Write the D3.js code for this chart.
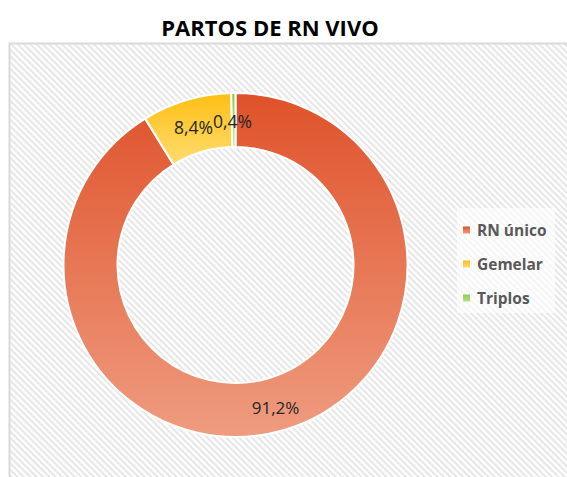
<!DOCTYPE html>
<html>
<head>
<meta charset="utf-8">
<script src="https://cdn.jsdelivr.net/npm/d3@7"></script>
<style>
  body { margin: 0; background: #fff; }
  svg { display: block; font-family: 'Open Sans', 'Noto Sans', sans-serif; }
</style>
</head>
<body>
<svg id="chart"></svg>
<script>
const categories = ['RN único', 'Gemelar', 'Triplos'];
const values = [91.2, 8.4, 0.4];
const labels = ['91,2%', '8,4%', '0,4%'];
const colorsTop = ['#df522a', '#ffbf14', '#8fcf4c'];
const colorsBottom = ['#ef9c80', '#ffdc70', '#b5e08a'];

const width = 567,
  height = 477,
  cx = 235.5,
  cy = 265,
  outerR = 172,
  innerR = 118;

const svg = d3.select('#chart')
  .attr('width', width)
  .attr('height', height);

const defs = svg.append('defs');

// diagonal stripe background
const pat = defs.append('pattern')
  .attr('id', 'stripes')
  .attr('patternUnits', 'userSpaceOnUse')
  .attr('width', 4.5)
  .attr('height', 4.5)
  .attr('patternTransform', 'rotate(45)');
pat.append('rect').attr('width', 4.5).attr('height', 4.5).attr('fill', '#fcfcfc');
pat.append('rect').attr('width', 4.5).attr('height', 1.8).attr('fill', '#e6e6e6');

categories.forEach((c, i) => {
  const g = defs.append('linearGradient')
    .attr('id', 'grad' + i)
    .attr('x1', 0).attr('y1', 0).attr('x2', 0).attr('y2', 1);
  g.append('stop').attr('offset', '0%').attr('stop-color', colorsTop[i]);
  g.append('stop').attr('offset', '100%').attr('stop-color', colorsBottom[i]);
});

svg.append('rect')
  .attr('x', 9.5)
  .attr('y', 43.5)
  .attr('width', 560)
  .attr('height', 440)
  .attr('fill', 'url(#stripes)')
  .attr('stroke', '#d9d9d9')
  .attr('stroke-width', 2);

svg.append('text')
  .attr('x', 270)
  .attr('y', 36)
  .attr('text-anchor', 'middle')
  .attr('font-size', 22)
  .attr('font-weight', 'bold')
  .attr('fill', '#000')
  .text('PARTOS DE RN VIVO');

const pie = d3.pie().sort(null).value(d => d);
const arc = d3.arc().innerRadius(innerR).outerRadius(outerR);
const arcs = pie(values);

const g = svg.append('g')
  .attr('transform', `translate(${cx},${cy})`);

g.selectAll('path')
  .data(arcs)
  .enter().append('path')
  .attr('d', arc)
  .attr('fill', (d, i) => `url(#grad${i})`)
  .attr('stroke', '#fff')
  .attr('stroke-width', 2);

// data labels
const labelPos = [
  [40, 142],
  [-42, -138],
  [-3, -144]
];
g.selectAll('text.lbl')
  .data(arcs)
  .enter().append('text')
  .attr('class', 'lbl')
  .attr('x', (d, i) => labelPos[i][0])
  .attr('y', (d, i) => labelPos[i][1])
  .attr('text-anchor', 'middle')
  .attr('dominant-baseline', 'central')
  .attr('font-size', (d, i) => i === 0 ? 17 : 17.5)
  .attr('fill', '#262626')
  .text((d, i) => labels[i]);

// legend
const legend = svg.append('g');
legend.append('rect')
  .attr('x', 457)
  .attr('y', 208)
  .attr('width', 98)
  .attr('height', 105)
  .attr('fill', '#fff')
  .attr('opacity', 0.6);

const item = legend.selectAll('g.item')
  .data(categories)
  .enter().append('g')
  .attr('class', 'item')
  .attr('transform', (d, i) => `translate(463,${230 + i * 34})`);

item.append('rect')
  .attr('y', -3.5)
  .attr('width', 7)
  .attr('height', 7)
  .attr('fill', (d, i) => `url(#grad${i})`);

item.append('text')
  .attr('x', 14)
  .attr('dominant-baseline', 'central')
  .attr('font-size', 15.5)
  .attr('font-weight', 'bold')
  .attr('fill', '#595959')
  .text(d => d);
</script>
</body>
</html>
